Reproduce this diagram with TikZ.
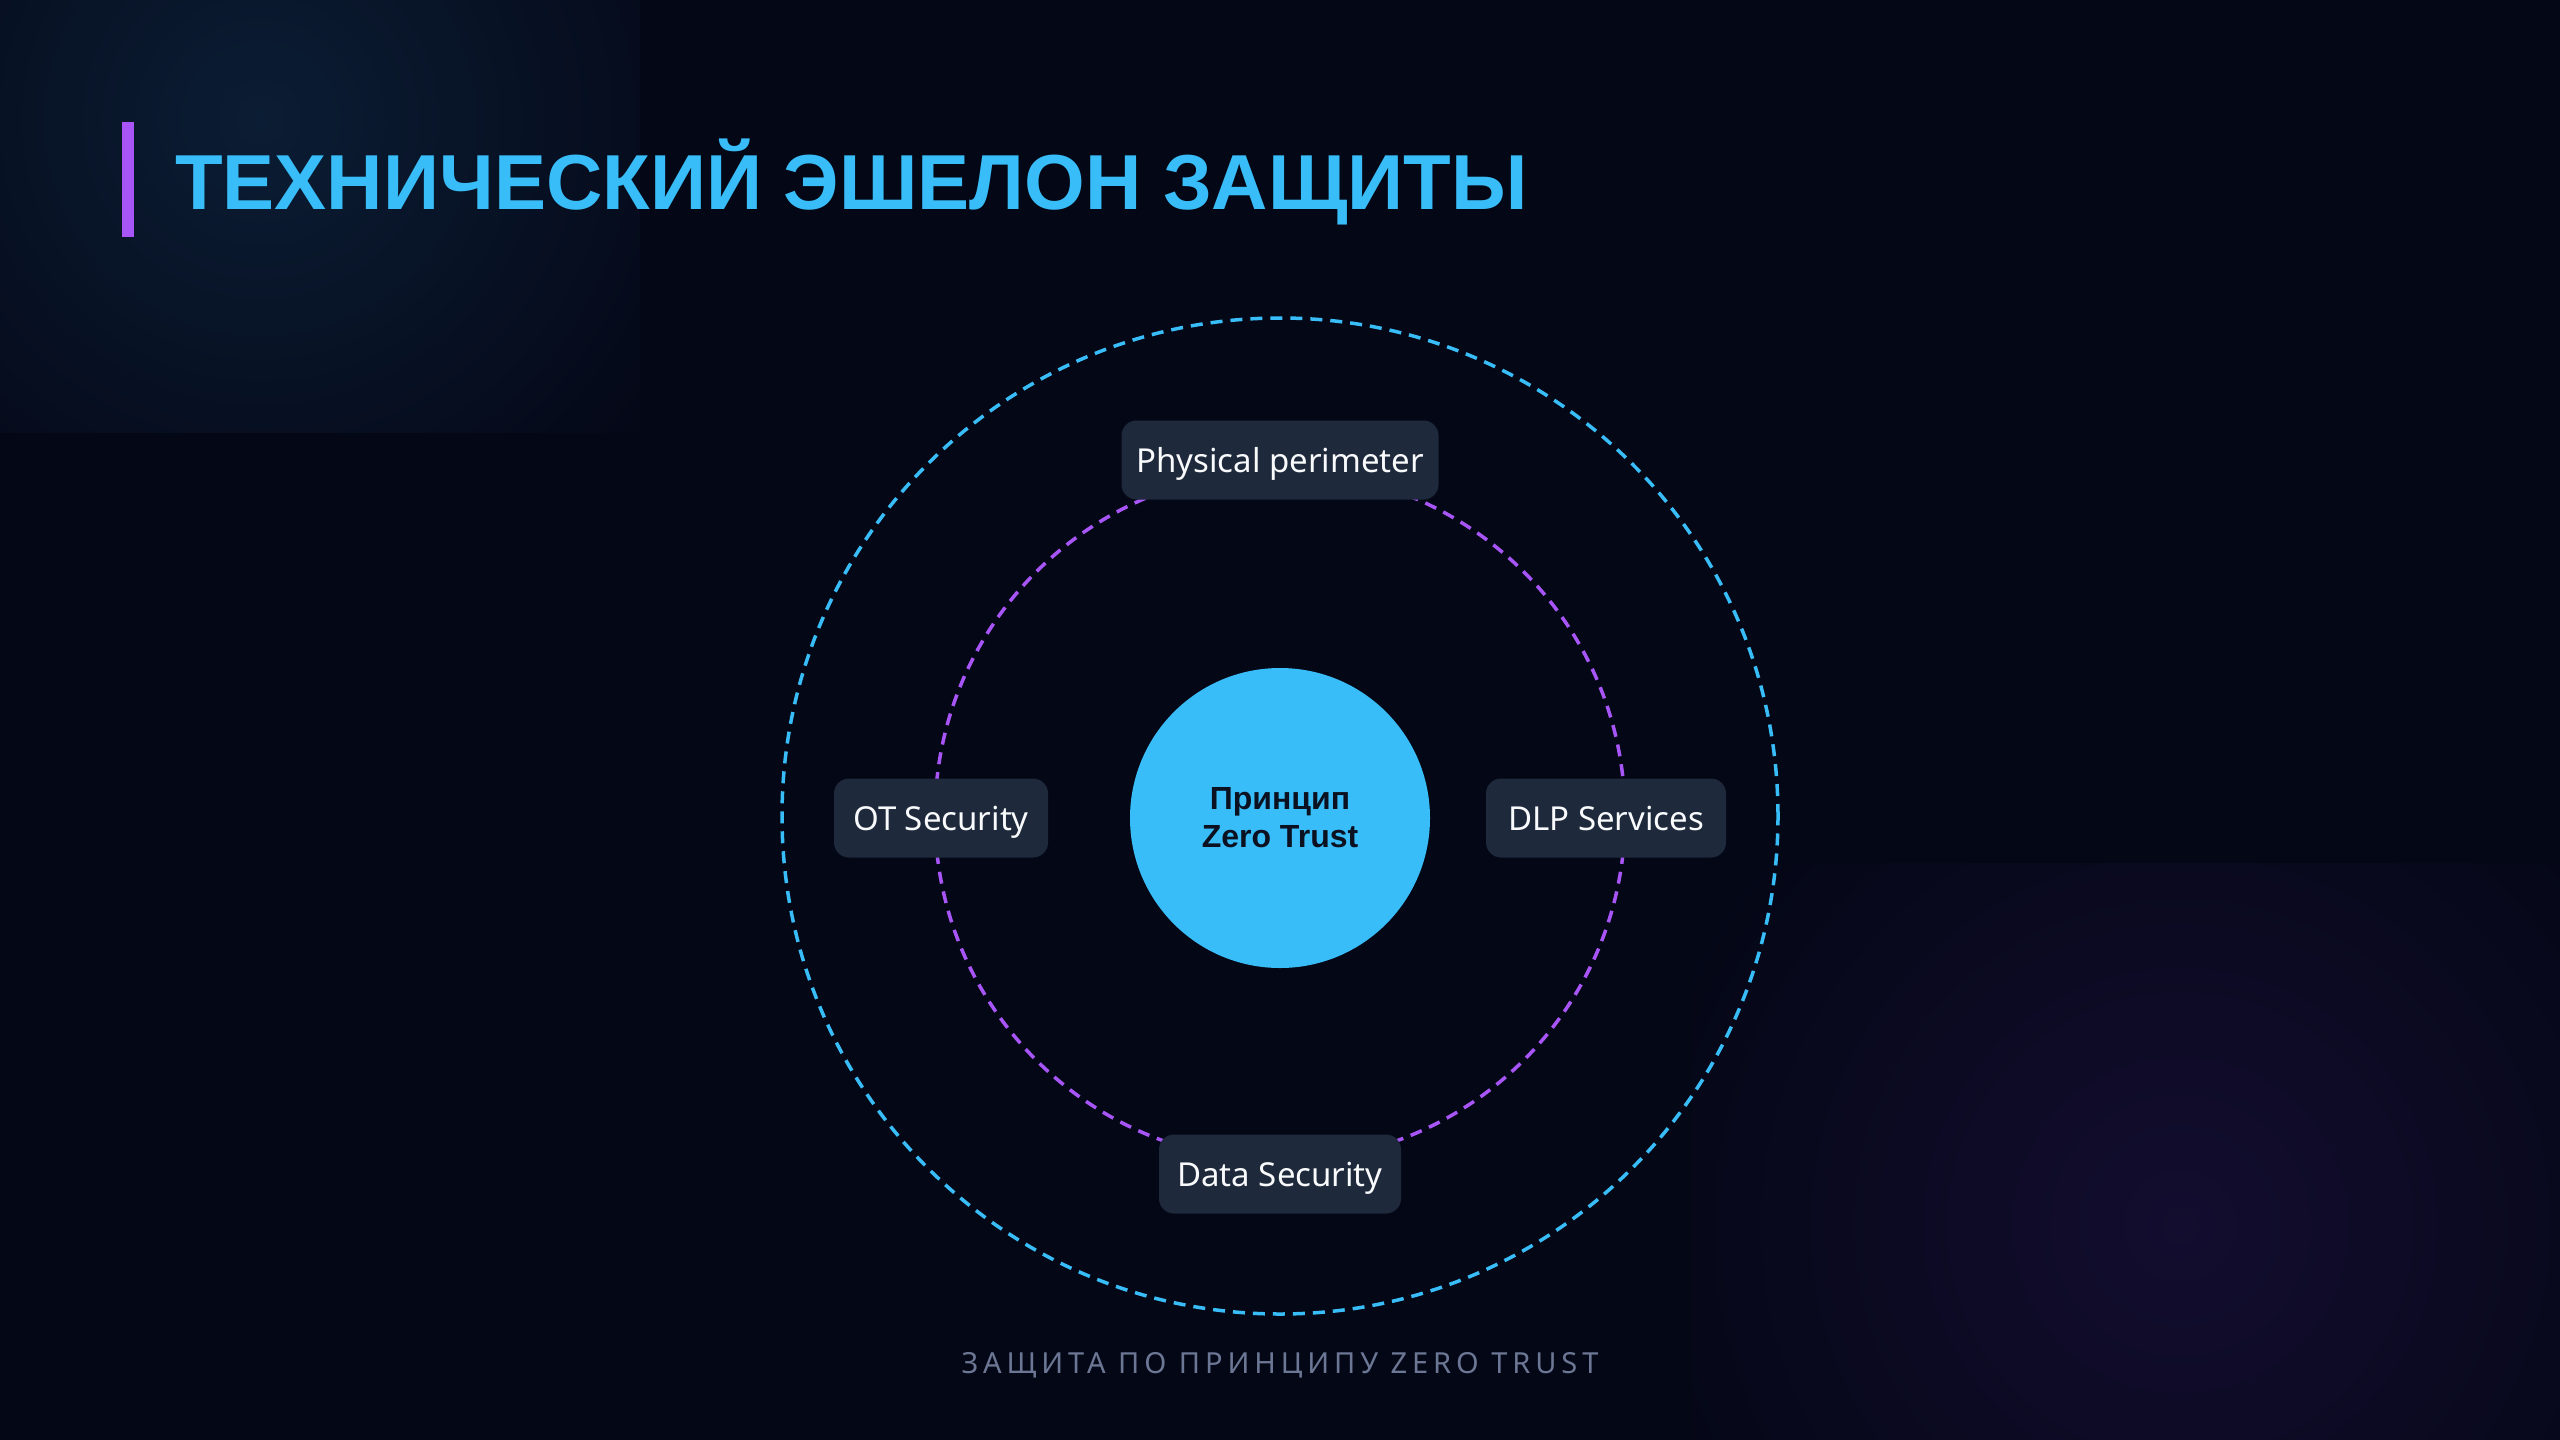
\documentclass[tikz,border=0pt]{standalone}
\usepackage{fontspec}
\setmainfont{Noto Sans}
\newfontfamily\heavyfont{Liberation Sans}
\definecolor{bg}{HTML}{040716}
\definecolor{glowblue}{HTML}{0B1D34}
\definecolor{glowviolet}{HTML}{130D2F}
\definecolor{sky}{HTML}{38BDF8}
\definecolor{violet}{HTML}{A855F7}
\definecolor{boxfill}{HTML}{1E293B}
\definecolor{boxtext}{HTML}{F8FAFC}
\definecolor{capgray}{HTML}{6B7794}
\definecolor{coretext}{HTML}{0B1120}
\newcommand\setfs[2]{\fontsize{#1}{#2}\selectfont}
\tikzset{
  ring/.style={circle, inner sep=0pt, line width=3.5pt, dash pattern=on 12pt off 8pt},
  labelbox/.style={rectangle, rounded corners=15pt, fill=boxfill, text=boxtext,
    inner sep=0pt, minimum height=79pt, text height=24pt, text depth=0pt,
    font=\setfs{33}{40}},
  corecircle/.style={circle, inner sep=0pt, fill=sky, text=coretext, align=center,
    font=\heavyfont\bfseries\setfs{32}{38}},
  titletext/.style={text=sky, inner sep=0pt, font=\heavyfont\bfseries\setfs{78}{94}},
  captiontext/.style={text=capgray, inner sep=0pt, font=\setfs{29}{34}\addfontfeatures{LetterSpace=17}}
}
\begin{document}
\begin{tikzpicture}[x=1pt,y=-1pt]
\useasboundingbox (0,0) rectangle (2560,1440);
\fill[bg] (0,0) rectangle (2560,1440);
\begin{scope}
  \clip (0,0) rectangle (640,432);
  \shade[inner color=glowblue, outer color=bg] (260,120) circle (500);
\end{scope}
\begin{scope}
  \clip (1692,863) rectangle (2560,1440);
  \shade[inner color=glowviolet, outer color=bg] (2180,1225) circle (560);
\end{scope}
% rings
\node[ring, draw=sky, minimum size=996pt] (outer) at (1280,816) {};
\node[ring, draw=violet, minimum size=690pt] (inner) at (1280,816) {};
% labels
\node[labelbox, minimum width=317pt] (phys) at (1280,460) {Physical perimeter};
\node[labelbox, minimum width=214pt] (ot) at (941,818) {OT Security};
\node[labelbox, minimum width=240pt] (dlp) at (1606,818) {DLP Services};
\node[labelbox, minimum width=242pt] (data) at (1280,1174) {Data Security};
% core
\node[corecircle, minimum size=300pt] (core) at (1280,818) {Принцип\\Zero Trust};
% title
\fill[violet] (122,122) rectangle (134,237);
\node[titletext, anchor=base west] (title) at (175,209) {ТЕХНИЧЕСКИЙ ЭШЕЛОН ЗАЩИТЫ};
\node[captiontext, anchor=base] (caption) at (1280,1373) {ЗАЩИТА ПО ПРИНЦИПУ ZERO TRUST};
\end{tikzpicture}
\end{document}
